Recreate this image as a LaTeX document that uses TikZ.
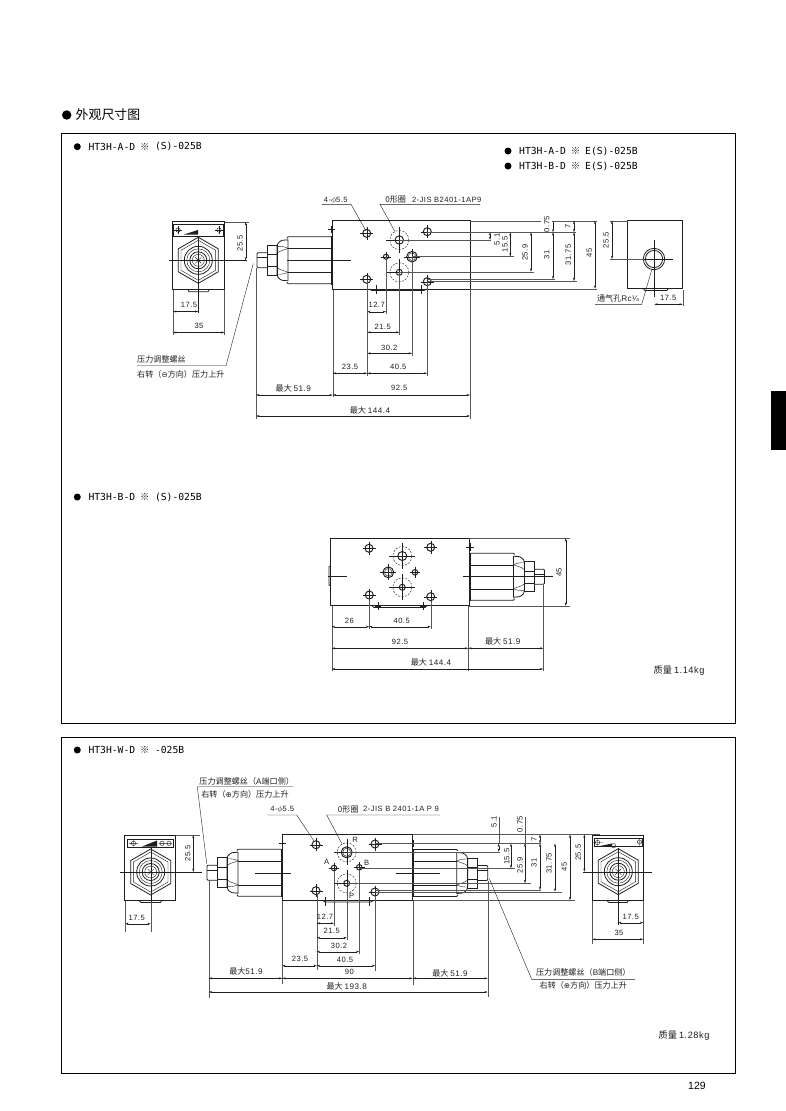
\documentclass[tikz,border=0pt]{standalone}
\usepackage{fontspec}
\setmainfont[LetterSpace=6]{Liberation Sans}
\newfontfamily\plainsans{Liberation Sans}
\newfontfamily\cjk{Noto Sans CJK SC}
\newfontfamily\symf{DejaVu Sans}
\newfontfamily\monof{DejaVu Sans Mono}
\usetikzlibrary{arrows.meta}
\definecolor{ink}{gray}{0.12}
\tikzset{
  outline/.style={draw=ink,line width=0.8pt},
  fineline/.style={draw=ink,line width=0.4pt},
  extline/.style={draw=ink!75,line width=0.4pt},
  dimline/.style={draw=ink,line width=0.4pt,{Stealth[length=3.4pt,width=2pt]}-{Stealth[length=3.4pt,width=2pt]}},
  leader/.style={draw=ink,line width=0.4pt},
  port/.style={draw=ink,line width=0.45pt,dash pattern=on 2pt off 1.4pt},
  lbl/.style={text=ink,inner sep=0pt,font=\fontsize{7.6}{8}\selectfont},
  cjklbl/.style={text=ink,inner sep=0pt,font=\cjk\fontsize{8.1}{9}\selectfont},
  masslbl/.style={text=ink,inner sep=0pt,font=\cjk\fontsize{9.2}{10}\selectfont},
  titlelbl/.style={text=black,inner sep=0pt,anchor=west,font=\monof\fontsize{9.7}{10}\selectfont},
  dotmark/.style={fill=black,draw=none}
}
\newcounter{lblc}
\newcommand{\tx}[4][]{\stepcounter{lblc}\node[lbl,#1] (t\thelblc) at (#2,#3) {#4};}
\newcommand{\cx}[4][]{\stepcounter{lblc}\node[cjklbl,#1] (t\thelblc) at (#2,#3) {#4};}
\newcommand{\titlerow}[5]{% x-dot, y, model, x-offset tail, tail
  \fill[dotmark] (#1,#2) circle (3.5);
  \stepcounter{lblc}\node[titlelbl] (t\thelblc) at (#1+11,#2) {#3};
  \stepcounter{lblc}\node[text=ink,inner sep=0pt,font=\cjk\fontsize{9.5}{10}\selectfont] (t\thelblc) at (#1+67.5,#2) {※};
  \stepcounter{lblc}\node[titlelbl] (t\thelblc) at (#1+#4,#2) {#5};}
\newcommand{\dimh}[3]{\draw[dimline] (#2,#1) -- (#3,#1);}
\newcommand{\dimv}[3]{\draw[dimline] (#1,#2) -- (#1,#3);}
\newcommand{\hole}[3]{\draw[outline,line width=0.95pt] (#1,#2) circle (#3);
  \draw[fineline] (#1-#3-2.5,#2) -- (#1+#3+2.5,#2) (#1,#2-#3-2.5) -- (#1,#2+#3+2.5);}
\newcommand{\dashport}[3]{\draw[port] (#1,#2) circle (9.5);
  \draw[outline,line width=0.95pt] (#1,#2) circle (#3);
  \draw[fineline] (#1-13,#2) -- (#1+13,#2) (#1,#2-13) -- (#1,#2+13);}
\newcommand{\valve}[3]{% base x, centre y, direction
  \begin{scope}[shift={(#1,#2)},xscale=#3]
    \draw[outline] (0,-23.7) rectangle (1,23.7);
    \draw[outline] (1,-23.5) -- (44,-23.5) -- (45,-22) (1,23.5) -- (44,23.5) -- (45,22);
    \draw[fineline] (1,-12) -- (44,-12) (1,12) -- (44,12);
    \draw[outline] (44,-20.5) -- (50,-20) .. controls (54,-18) and (55,-16) .. (55,-14) -- (55,14) .. controls (55,16) and (54,18) .. (50,20) -- (44,20.5) -- cycle;
    \draw[fineline] (44,-12) .. controls (48,-14) and (52,-14) .. (55,-14) (44,12) .. controls (48,14) and (52,14) .. (55,14);
    \draw[fineline] (44,-12) .. controls (48,-10) and (52,-10) .. (55,-7) (44,12) .. controls (48,10) and (52,10) .. (55,7);
    \draw[outline] (55,-15) rectangle (65,15);
    \draw[fineline] (55,-6) -- (65,-6) (55,6) -- (65,6);
    \draw[outline] (65,-7.5) -- (74,-7.5) -- (75,-6.5) -- (75,6.5) -- (74,7.5) -- (65,7.5);
    \draw[fineline] (65,-3) -- (75,-3);
  \end{scope}}
\newcommand{\hexv}[2]{% hexagon head, pointy at top and bottom
  \begin{scope}[shift={(#1,#2)}]
    \draw[outline] (0,-23) -- (20,-11.5) -- (20,11.5) -- (0,23) -- (-20,11.5) -- (-20,-11.5) -- cycle;
    \draw[fineline] (0,-20) -- (17.3,-10) -- (17.3,10) -- (0,20) -- (-17.3,10) -- (-17.3,-10) -- cycle;
    \draw[outline] (0,0) circle (14);
    \draw[fineline] (0,0) circle (11.5);
    \draw[outline] (0,0) circle (8.5);
    \draw[fineline] (0,0) circle (6);
    \draw[fineline] (-3,-3) -- (3,3) (-3,3) -- (3,-3);
  \end{scope}}
\newcommand{\plate}[4]{% x1,y1,x2,y2
  \draw[outline] (#1,#2) rectangle (#3,#4);}
\begin{document}
\begin{tikzpicture}[x=1pt,y=-1pt]
\useasboundingbox (0,0) rectangle (786,1111);
\fill[white] (0,0) rectangle (786,1111);
% page furniture
\fill[dotmark] (66.7,115) circle (4.7);
\node[inner sep=0pt,anchor=west,font=\cjk\fontsize{12.9}{13}\selectfont] (heading) at (75.5,115) {外观尺寸图};
\draw[black,line width=0.8pt] (61.5,133.5) rectangle (735,723.5);
\draw[black,line width=0.8pt] (61.5,737) rectangle (735,1073);
\fill[black] (771,391) rectangle (786,450);
\node[inner sep=0pt,font=\plainsans\fontsize{10.5}{11}\selectfont] (pageno) at (697,1086) {129};
% titles
\titlerow{77.3}{146.7}{HT3H-A-D}{77.5}{(S)-025B}
\titlerow{508}{151}{HT3H-A-D}{77}{E(S)-025B}
\titlerow{508}{166}{HT3H-B-D}{77}{E(S)-025B}
\titlerow{77.3}{497}{HT3H-B-D}{77.5}{(S)-025B}
\titlerow{77.3}{750}{HT3H-W-D}{77.5}{-025B}

%%%%%%%%%% VIEW 1 : left end view
\draw[outline] (172.3,221.7) rectangle (224.3,289);
\plate{173.5}{224}{223.5}{236}
\hexv{198.3}{260.3}
\draw[fineline] (178,230) circle (2.2) (219,230) circle (2.2);
\draw[fineline] (174,230) -- (182,230) (178,226) -- (178,234) (215,230) -- (223,230) (219,226) -- (219,234);
\fill[ink] (184,234.5) -- (198,230) -- (198,234.5) -- cycle;
\draw[outline] (187.7,289) -- (189,291.7) -- (208,291.7) -- (209.3,289);
\draw[fineline] (168.5,260.3) -- (246.5,260.3) (198.3,236) -- (198.3,313);
% dims view 1 end
\draw[extline] (224.5,222) -- (249,222) (173,290) -- (173,335) (224.5,290) -- (224.5,335);
\dimv{245.7}{222}{260.3}
\dimh{311.5}{173}{198.3}
\dimh{332.5}{173}{224.5}
\tx[rotate=90]{240}{243.5}{25.5}
\tx{189}{305}{17.5}
\tx{199}{326}{35}
\cx[anchor=west]{137}{359}{压力调整螺丝}
\cx[anchor=west]{137}{374}{右转（{\symf\fontsize{7.5}{8}\selectfont⊖}方向）压力上升}
\draw[leader] (137,365.7) -- (226,365.7) -- (253.3,263.5);

%%%%%%%%%% VIEW 1 : main block
\valve{332}{260.3}{-1}
\draw[outline] (332.3,220.7) rectangle (470,289);
\draw[fineline] (328,229) -- (335,229) (331.5,225.5) -- (331.5,232.5);
\draw[fineline] (287,260.3) -- (351,260.3);
\draw[outline] (369,289) -- (372,290.5) -- (424,290.5) -- (427,289);
\draw[fineline] (376.5,285) -- (376.5,294) (421.5,285) -- (421.5,294);
\hole{366.7}{233.3}{4}
\hole{427.3}{231.7}{4}
\hole{366.7}{279.3}{4}
\hole{427.3}{281.7}{4}
\dashport{399.3}{240}{4.2}
\dashport{399.3}{272.3}{3}
\hole{386}{256.7}{2.6}
\hole{412}{256.7}{5.3}
\draw[fineline] (412,256.7) circle (3.8);
% horizontal witness lines
\draw[extline] (470,220.7) -- (541,220.7) (552,220.7) -- (597,220.7) (470,288.7) -- (597,288.7);
\draw[extline] (427,232.3) -- (576,232.3);
\draw[extline] (399,240) -- (491,240);
\draw[extline] (412,256.5) -- (514,256.5);
\draw[extline] (399,271.7) -- (534,271.7);
\draw[extline] (427,279.3) -- (555,279.3);
\draw[extline] (427,281) -- (577,281);
\dimv{490}{232.3}{240}
\dimv{510.3}{232.3}{256.5}
\dimv{531}{232.3}{271.7}
\dimv{553}{232.3}{279.3}
\draw[fineline,-{Stealth[length=3pt,width=1.8pt]}] (553,222) -- (553,232.3);
\dimv{574}{220.7}{232.3}
\dimv{574}{232.3}{281}
\dimv{595}{220.7}{288.7}
\tx[rotate=90]{497}{239.5}{5.1}
\tx[rotate=90]{505}{244.5}{15.5}
\tx[rotate=90]{525}{252.7}{25.9}
\tx[rotate=90]{546.7}{255}{31}
\tx[rotate=90]{546.7}{224}{0.75}
\tx[rotate=90]{567.7}{226}{7}
\tx[rotate=90]{568.3}{255}{31.75}
\tx[rotate=90]{589.3}{252.7}{45}
% leaders top
\tx{335.7}{200}{4-$\phi$5.5}
\cx{395.7}{200}{0形圈}
\tx{446.7}{200}{2-JIS B2401-1AP9}
\draw[leader] (321.7,204.3) -- (351,204.3) -- (366,231);
\draw[leader] (480,204.3) -- (380,204.3) -- (395,231.7);
% vertical witness lines
\draw[extline] (256,268) -- (256,419) (332.7,290) -- (332.7,397) (470,289) -- (470,419);
\draw[extline] (367.3,280) -- (367.3,376) (386,257) -- (386,314) (399.3,272) -- (399.3,335) (412,257) -- (412,356) (427.3,282) -- (427.3,376);
\dimh{311.7}{367.3}{386}
\dimh{332.3}{367.3}{399.3}
\dimh{353.3}{367.3}{412}
\dimh{373.3}{332.7}{367.3}
\dimh{373.3}{367.3}{427.3}
\dimh{395}{256}{332.7}
\dimh{395}{332.7}{470}
\dimh{416}{256}{470}
\tx{376.7}{304.7}{12.7}
\tx{382.7}{326.5}{21.5}
\tx{389.3}{347.5}{30.2}
\tx{350}{367}{23.5}
\tx{398.3}{367}{40.5}
\cx{293.3}{388.3}{最大 {\rmfamily 51.9}}
\tx{399.3}{388.3}{92.5}
\cx{370}{410}{最大 {\rmfamily 144.4}}

%%%%%%%%%% VIEW 1 : right end view
\draw[outline] (627.7,220.7) rectangle (682.7,288.7);
\draw[outline] (654,259) circle (10.7);
\draw[outline] (654,259) circle (8.6);
\draw[fineline] (636.7,259) -- (672.7,259) (654,240) -- (654,297);
\draw[outline] (643.5,288.7) -- (645,290.5) -- (667,290.5) -- (668,288.7);
\draw[extline] (610,220.7) -- (627.7,220.7) (610,259) -- (644,259) (682.7,290) -- (682.7,306);
\dimv{612}{220.7}{259}
\dimh{304.3}{654.3}{682.7}
\tx[rotate=90]{606}{240}{25.5}
\tx{668.3}{298.3}{17.5}
\cx{618}{298.7}{通气孔{\rmfamily Rc}{\rmfamily ¼}}
\draw[leader] (595,304.3) -- (641.7,304.3) -- (651.7,270);

%%%%%%%%%% VIEW 2
\valve{469.5}{576.7}{1}
\draw[outline] (330.7,538.3) rectangle (469,605.7);
\draw[outline] (329,566.7) -- (329,585) -- (330.7,586) (329,566.7) -- (330.7,565.5);
\draw[fineline] (328,576) -- (347,576) (463,576) -- (553,576);
\draw[fineline] (466,546.7) -- (473.5,546.7) (469.7,543) -- (469.7,550.5);
\draw[outline] (372,605.7) -- (374,607.5) -- (425,607.5) -- (427,605.7);
\draw[fineline] (378,602) -- (378,610) (423,602) -- (423,610) (375,606) -- (381,606) (420,606) -- (426,606);
\hole{369}{548.3}{4}
\hole{430.7}{547.3}{4}
\hole{369.3}{595}{4}
\hole{430.7}{596.7}{4}
\dashport{402.3}{556}{4.5}
\dashport{402.3}{587.3}{3}
\hole{388.3}{572.3}{5.4}
\draw[fineline] (388.3,572.3) circle (3.8);
\hole{415}{572.3}{2.8}
\draw[extline] (469,538.3) -- (570,538.3) (469,605.7) -- (570,605.7);
\draw[extline] (331.7,606) -- (331.7,671) (369.3,599) -- (369.3,629) (430.7,601) -- (430.7,629) (468.3,606) -- (468.3,671) (543.3,585) -- (543.3,671);
\dimv{565.7}{538.3}{605.7}
\dimh{626.7}{331.7}{369.3}
\dimh{626.7}{369.3}{430.7}
\dimh{648.3}{331.7}{468.3}
\dimh{648.3}{468.3}{543.3}
\dimh{669}{331.7}{543.3}
\tx[rotate=90]{559}{572.3}{45}
\tx{349.3}{620.7}{26}
\tx{401.7}{620.7}{40.5}
\tx{400}{641.7}{92.5}
\cx{502.7}{641.7}{最大 {\rmfamily 51.9}}
\cx{431}{662.3}{最大 {\rmfamily 144.4}}
\node[masslbl] (massa) at (679,671) {质量 {\rmfamily 1.14kg}};

%%%%%%%%%% VIEW 3 : left end
\draw[outline] (124.3,835.7) rectangle (175.7,900.7);
\plate{127.7}{839.3}{173.3}{847.3}
\hexv{150.7}{872}
\draw[fineline] (129,843.3) -- (138,843.3) (133.5,840) -- (133.5,846.5) (133.5,843.3) circle (2.2);
\draw[fineline] (159,843.3) -- (172,843.3) (162,843.3) circle (2.2) (169,843.3) circle (2.2);
\fill[ink] (142,846.5) -- (157,840.5) -- (157,846.5) -- cycle;
\draw[outline] (139.3,900.7) -- (141,902.5) -- (160.5,902.5) -- (161.7,900.7);
\draw[fineline] (120,872) -- (201.7,872) (150.7,848) -- (150.7,925);
\draw[extline] (176,835) -- (200,835) (125.3,901) -- (125.3,932) (150.7,902) -- (150.7,932);
\dimv{193.3}{835}{872}
\dimh{923.7}{125.3}{150.7}
\tx[rotate=90]{187.7}{853.3}{25.5}
\tx{136.7}{917.7}{17.5}
\cx{246.7}{781}{压力调整螺丝（{\rmfamily A}端口侧）}
\cx{245}{794.3}{右转（{\symf\fontsize{7.5}{8}\selectfont⊕}方向）压力上升}
\draw[leader] (293.3,786.7) -- (197.3,786.7) -- (206.7,863.5);

%%%%%%%%%% VIEW 3 : block
\valve{282}{872.7}{-1}
\valve{412.7}{873}{1}
\draw[outline] (282.3,834.7) rectangle (412.7,900.5);
\draw[fineline] (278.5,843.5) -- (285.5,843.5) (282,840) -- (282,847) (409,843.5) -- (416,843.5) (412.7,840) -- (412.7,847);
\draw[fineline] (255,872.7) -- (291,872.7) (396,872.7) -- (440,872.7) (487,868) -- (497,868);
\draw[outline] (323,900.5) -- (325,902) -- (371,902) -- (373,900.5);
\draw[fineline] (325,897) -- (325,905.5) (369.5,897) -- (369.5,905.5);
\hole{316}{844.7}{4}
\hole{375}{844}{4}
\hole{316}{890.7}{4}
\hole{375}{892}{4}
\dashport{346.7}{852.3}{5.5}
\draw[fineline] (346.7,852.3) circle (4);
\dashport{346.7}{883.3}{3}
\hole{334}{868}{2.8}
\hole{359.3}{867.3}{2.8}
\tx{355}{840}{R}
\tx{326.7}{862.3}{A}
\tx{366.7}{862.7}{B}
\tx{351.7}{896}{P}
\tx{282.3}{809.3}{4-$\phi$5.5}
\cx{348.3}{809.3}{0形圈}
\tx[anchor=west]{363}{809.3}{2-JIS B 2401-1A P 9}
\draw[leader] (267.3,815) -- (296.7,815) -- (314,841);
\draw[leader] (440,815) -- (326.7,815) -- (341.7,843.3);
% horizontal witness lines
\draw[extline] (412.7,834.5) -- (600,834.5) (412.7,900.3) -- (575,900.3);
\draw[extline] (375,843.5) -- (541,843.5);
\draw[extline] (346.7,851.7) -- (500,851.7);
\draw[extline] (359,868.3) -- (515,868.3);
\draw[extline] (346.7,883.3) -- (531,883.3);
\draw[extline] (375,890) -- (541,890);
\draw[extline] (375,891.7) -- (562,891.7);
\draw[extline] (498.7,817) -- (498.7,843.5) (525,817) -- (525,845);
\dimv{498.7}{843.5}{851.7}
\dimv{511}{843.5}{868.3}
\dimv{525}{843.5}{883.3}
\dimv{540}{843.5}{890}
\dimv{540}{834.5}{843.5}
\dimv{555}{843.5}{891.7}
\dimv{570}{834.5}{900.3}
\dimv{584.3}{834.5}{871.7}
\tx[rotate=90]{494}{821.7}{5.1}
\tx[rotate=90]{506.7}{856.7}{15.5}
\tx[rotate=90]{520}{865}{25.9}
\tx[rotate=90]{534}{862.7}{31}
\tx[rotate=90]{520}{824}{0.75}
\tx[rotate=90]{534}{839.3}{7}
\tx[rotate=90]{549}{863.3}{31.75}
\tx[rotate=90]{564.3}{866.7}{45}
\tx[rotate=90]{578.3}{852.7}{25.5}
% vertical witness lines
\draw[extline] (208.7,880) -- (208.7,998) (282.3,901) -- (282.3,984) (412.7,901) -- (412.7,985) (487.7,881) -- (487.7,997);
\draw[extline] (316.7,895) -- (316.7,970) (334,871) -- (334,926) (346.7,887) -- (346.7,940) (359.3,870) -- (359.3,954) (375.3,896) -- (375.3,971);
\dimh{923.3}{316.7}{334}
\dimh{937.7}{316.7}{346.7}
\dimh{951.7}{316.7}{359.3}
\dimh{965.7}{282.3}{316.7}
\dimh{965.7}{316.7}{375.3}
\dimh{978.3}{208.7}{282.3}
\dimh{978.3}{282.3}{412.7}
\dimh{978.3}{412.7}{487.7}
\dimh{992}{208.7}{487.7}
\tx{325}{916.7}{12.7}
\tx{331.7}{931.3}{21.5}
\tx{339}{945.7}{30.2}
\tx{300}{959.3}{23.5}
\tx{345}{960}{40.5}
\cx{246}{971.7}{最大{\rmfamily 51.9}}
\tx{349.3}{971.7}{90}
\cx{450}{973}{最大 {\rmfamily 51.9}}
\cx{346.7}{986}{最大 {\rmfamily 193.8}}

%%%%%%%%%% VIEW 3 : right end
\draw[outline] (592.3,835) rectangle (643.3,900.7);
\plate{594}{838}{642.3}{846.7}
\hexv{618.3}{871.7}
\draw[fineline] (593,842.5) -- (603,842.5) (597.5,838.5) -- (597.5,846.5) (597.5,842.5) circle (2.2) (613.5,845.7) circle (2.2) (637.8,842) -- (642,842) (639.5,838) -- (639.5,846) (639.5,842) circle (2.2);
\fill[ink] (600,846) -- (612,843.5) -- (612,846) -- cycle;
\draw[outline] (607,900.7) -- (609,902.5) -- (627,902.5) -- (628.3,900.7);
\draw[fineline] (583,871.7) -- (651.7,871.7) (618.3,848) -- (618.3,925);
\draw[extline] (592.3,901) -- (592.3,944) (643.3,901) -- (643.3,944);
\dimh{922.7}{618.3}{643.3}
\dimh{939.3}{592.3}{643.3}
\tx{630.7}{916.7}{17.5}
\tx{619}{932.7}{35}
\cx{583.3}{972.7}{压力调整螺丝（{\rmfamily B}端口侧）}
\cx{583.3}{985.7}{右转（{\symf\fontsize{7.5}{8}\selectfont⊕}方向）压力上升}
\draw[leader] (635,979.3) -- (531.7,979.3) -- (489.3,878.5);
\node[masslbl] (massb) at (684,1036) {质量 {\rmfamily 1.28kg}};
\end{tikzpicture}
\end{document}
